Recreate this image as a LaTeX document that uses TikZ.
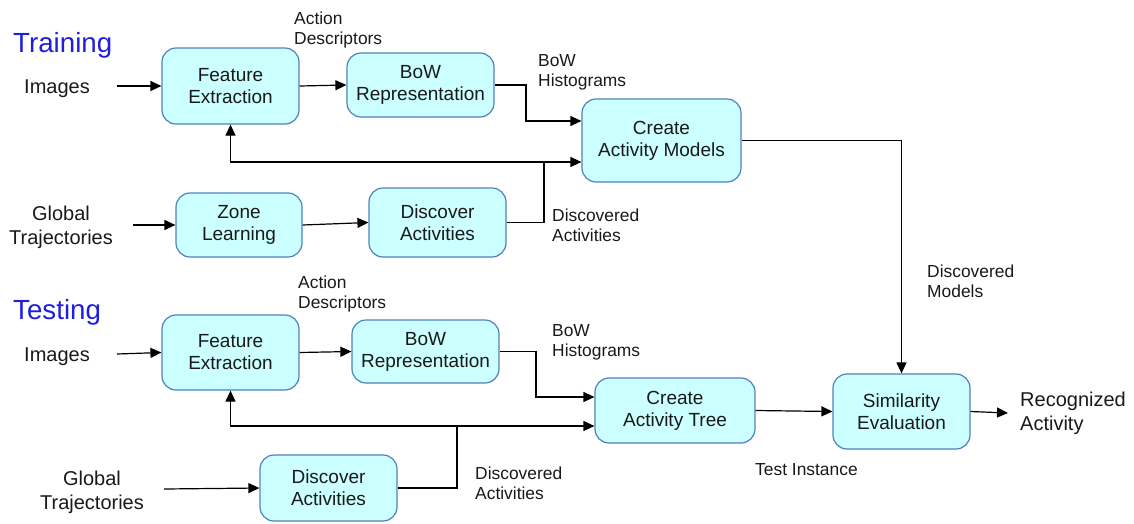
\documentclass[tikz,border=0pt]{standalone}
\usepackage{fontspec}
\setmainfont{Liberation Sans}
\usetikzlibrary{arrows.meta}

\definecolor{boxfill}{RGB}{204,255,255}
\definecolor{boxline}{RGB}{79,129,189}
\definecolor{titleblue}{RGB}{30,30,220}
\definecolor{ink}{RGB}{25,25,25}

\begin{document}
\begin{tikzpicture}[x=1pt,y=-1pt,
  procbox/.style={draw=boxline, fill=boxfill, line width=1.2pt, rounded corners=14pt,
    align=center, inner sep=0pt, text=ink, font=\fontsize{19}{22}\selectfont},
  smalllabel/.style={anchor=west, align=left, inner sep=0pt, text=ink,
    font=\fontsize{17.4}{20}\selectfont},
  biglabel/.style={align=center, inner sep=0pt, text=ink,
    font=\fontsize{20}{24}\selectfont},
  heading/.style={anchor=west, inner sep=0pt, text=titleblue,
    font=\fontsize{27.7}{32}\selectfont},
  arr/.style={-{Triangle[length=11pt,width=10pt]}, line width=1.2pt, draw=black}]
\useasboundingbox (0,0) rectangle (1134,523);

% ---------- Training ----------
\node[heading] (train) at (13,45) {Training};
\node[biglabel] (img1) at (57,89) {Images};
\node[biglabel] (glob1) at (61,227) {Global\\Trajectories};

\node[procbox, minimum width=137pt, minimum height=76pt] (fe1) at (230.5,86) {Feature\\Extraction};
\node[procbox, minimum width=147pt, minimum height=64pt] (bow1) at (420.5,85) {BoW\\Representation};
\node[procbox, minimum width=159pt, minimum height=83pt] (cam) at (661.5,140.5) {Create\\Activity Models};
\node[procbox, minimum width=126pt, minimum height=64pt] (zl) at (239,225) {Zone\\Learning};
\node[procbox, minimum width=137pt, minimum height=69pt] (da1) at (437.5,222.5) {Discover\\Activities};

\node[smalllabel] (ad1) at (294,30) {Action\\Descriptors};
\node[smalllabel] (bh1) at (538,72) {BoW\\Histograms};
\node[smalllabel] (dact1) at (552,225) {Discovered\\Activities};
\node[smalllabel] (dmod) at (927,281) {Discovered\\Models};

\coordinate (s1) at (117,86);
\coordinate (s2) at (133,225);
\coordinate (j1) at (526,121);
\coordinate (j2) at (544,162);

\draw[arr] (s1) -- (fe1.west);
\draw[arr] (fe1.east) -- (bow1.west);
\draw[arr] (bow1.east) -| (j1) -- (cam.west |- j1);
\draw[arr] (s2) -- (zl.west);
\draw[arr] (zl.east) -- (da1.west);
\draw[arr] (da1.east) -| (j2) -- (cam.west |- j2);
\draw[arr] (j2) -| (fe1.south);

% ---------- Testing ----------
\node[heading] (test) at (13,312) {Testing};
\node[biglabel] (img2) at (57,357) {Images};
\node[biglabel] (glob2) at (92,492) {Global\\Trajectories};

\node[procbox, minimum width=137pt, minimum height=75pt] (fe2) at (230.5,352.5) {Feature\\Extraction};
\node[procbox, minimum width=147pt, minimum height=63pt] (bow2) at (425.5,351.5) {BoW\\Representation};
\node[procbox, minimum width=160pt, minimum height=65pt] (cat) at (675,410.5) {Create\\Activity Tree};
\node[procbox, minimum width=137pt, minimum height=75pt] (se) at (901.5,411.5) {Similarity\\Evaluation};
\node[procbox, minimum width=137pt, minimum height=66pt] (da2) at (328.5,488) {Discover\\Activities};

\node[smalllabel] (ad2) at (298,293.5) {Action\\Descriptors};
\node[smalllabel] (bh2) at (552,342.5) {BoW\\Histograms};
\node[smalllabel] (dact2) at (475,483) {Discovered\\Activities};
\node[smalllabel] (ti) at (755,470) {Test Instance};
\node[biglabel, anchor=west, align=left] (rec) at (1020,413) {Recognized\\Activity};

\coordinate (s3) at (117,354);
\coordinate (s4) at (164,489);
\coordinate (j3) at (536,397);
\coordinate (j4) at (457,426);
\coordinate (e1) at (1008,413);

\draw[arr] (s3) -- (fe2.west);
\draw[arr] (fe2.east) -- (bow2.west);
\draw[arr] (bow2.east) -| (j3) -- (cat.west |- j3);
\draw[arr] (s4) -- (da2.west);
\draw[arr] (da2.east) -| (j4) -- (cat.west |- j4);
\draw[arr] (j4) -| (fe2.south);
\draw[arr] (cat.east) -- (se.west);
\draw[arr] (se.east) -- (e1);

% trained models feed the similarity evaluation
\draw[arr] (cam.east) -| (se.north);
\end{tikzpicture}
\end{document}
